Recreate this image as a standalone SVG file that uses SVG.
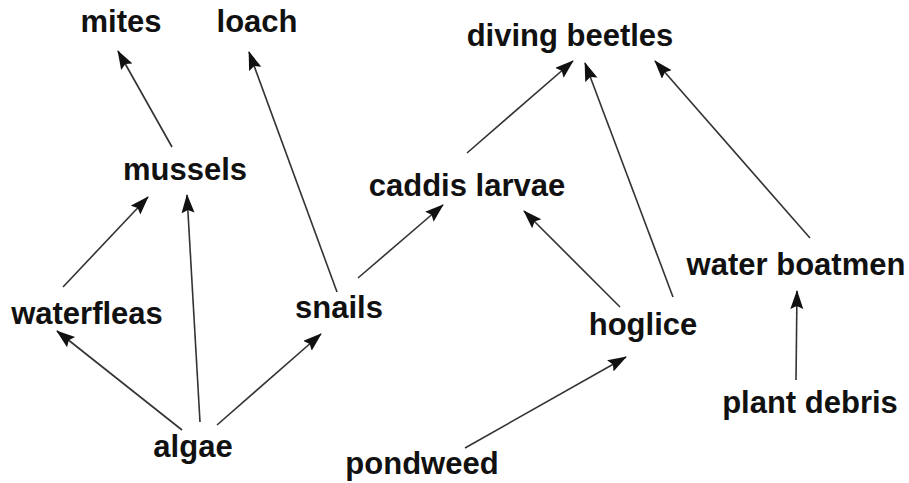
<svg xmlns="http://www.w3.org/2000/svg" width="909" height="483" viewBox="0 0 909 483">
<style>
text{font-family:"Liberation Sans",Arial,sans-serif;font-weight:bold;font-size:31px;fill:#111;text-anchor:middle}
.c line{stroke:#333;stroke-width:1.6;marker-end:url(#ah)}
</style>
<defs>
<marker id="ah" markerUnits="userSpaceOnUse" markerWidth="20" markerHeight="14" refX="18" refY="6.5" orient="auto" viewBox="0 0 20 14">
<path d="M0,0 L19,6.5 L0,13 L3,6.5 z" fill="#111"/>
</marker>
</defs>
<rect width="909" height="483" fill="#fff"/>
<g class="c" id="connectors">
<line x1="172" y1="147" x2="118" y2="51"/>
<line x1="337" y1="292" x2="249" y2="52"/>
<line x1="63" y1="287" x2="148" y2="197"/>
<line x1="200" y1="422" x2="187" y2="195"/>
<line x1="182" y1="430" x2="57" y2="331"/>
<line x1="217" y1="425" x2="321" y2="334"/>
<line x1="358" y1="278" x2="443" y2="205"/>
<line x1="467" y1="153" x2="573" y2="61"/>
<line x1="673" y1="297" x2="585" y2="63"/>
<line x1="810" y1="238" x2="655" y2="61"/>
<line x1="620" y1="307" x2="524" y2="211"/>
<line x1="465" y1="448" x2="626" y2="357"/>
<line x1="796" y1="380" x2="797" y2="291"/>
</g>
<g id="mites"><text x="121" y="32">mites</text></g>
<g id="loach"><text x="257" y="32">loach</text></g>
<g id="diving-beetles"><text x="570" y="46">diving beetles</text></g>
<g id="mussels"><text x="185" y="180">mussels</text></g>
<g id="caddis-larvae"><text x="467" y="196">caddis larvae</text></g>
<g id="waterfleas"><text x="87" y="324">waterfleas</text></g>
<g id="snails"><text x="339" y="318">snails</text></g>
<g id="algae"><text x="193" y="457">algae</text></g>
<g id="pondweed"><text x="422" y="474">pondweed</text></g>
<g id="hoglice"><text x="643" y="335">hoglice</text></g>
<g id="water-boatmen"><text x="796" y="275">water boatmen</text></g>
<g id="plant-debris"><text x="810" y="413">plant debris</text></g>
</svg>
